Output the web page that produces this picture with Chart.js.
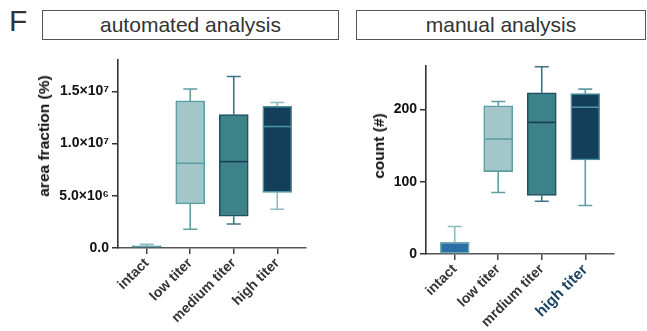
<!DOCTYPE html>
<html>
<head>
<meta charset="utf-8">
<script src="https://cdn.jsdelivr.net/npm/chart.js@4.4.1/dist/chart.umd.min.js"></script>
<style>
  body { margin: 0; background: #fff; font-family: "Liberation Sans", Arial, sans-serif; }
  #wrap { position: relative; width: 647px; height: 331px; overflow: hidden; background: #fff; }
  canvas { position: absolute; top: 0; }
  .panel-title { position: absolute; box-sizing: border-box; border: 1px solid #555; color: #333;
    font-size: 21px; text-align: center; line-height: 28px; height: 30px; top: 10px; }
  .letter { position: absolute; left: 9px; top: 4px; font-size: 30px; color: #333; }
  .ytitle { position: absolute; font-weight: bold; font-size: 15.5px; color: #111; white-space: nowrap;
    transform: translate(-50%, -50%) rotate(-90deg); }
</style>
</head>
<body>
<div id="wrap">
  <div class="letter">F</div>
  <div class="panel-title" style="left:42px; width:297px;">automated analysis</div>
  <div class="panel-title" style="left:356px; width:290px;">manual analysis</div>
  <canvas id="autoChart" width="330" height="331" style="left:0"></canvas>
  <canvas id="manualChart" width="317" height="331" style="left:330px"></canvas>
  <div class="ytitle" style="left:44px; top:136px;">area fraction (%)</div>
  <div class="ytitle" style="left:379px; top:146px;">count (#)</div>
</div>
<script>
// categories
const categories = ['intact', 'low titer', 'medium titer', 'high titer'];
const categoriesManual = ['intact', 'low titer', 'mrdium titer', 'high titer'];

// automated analysis: box plot statistics
const autoMin = [0, 1.79e6, 2.3e6, 3.71e6];
const autoQ1 = [0, 4.21e6, 3.04e6, 5.33e6];
const autoMedian = [0, 8.11e6, 8.27e6, 1.163e7];
const autoQ3 = [2.0e5, 1.408e7, 1.278e7, 1.357e7];
const autoMax = [3.5e5, 1.523e7, 1.642e7, 1.393e7];

// manual analysis: box plot statistics
const manMin = [0, 85, 73, 67];
const manQ1 = [0, 114, 81, 130];
const manMedian = [0, 159, 182, 203];
const manQ3 = [16, 205, 223, 222];
const manMax = [38, 211, 259, 228];

// y tick values
const autoTicks = [0, 5e6, 1e7, 1.5e7];
const manTicks = [0, 100, 200];

const FONT = "'Liberation Sans', Arial, sans-serif";

// whiskers behind the box, median on top
function boxPlotPlugin(minArr, q1Arr, medArr, q3Arr, maxArr, whiskerColors, medianColors) {
    return {
        id: 'boxWhiskers',
        beforeDatasetsDraw(chart) {
            const ctx = chart.ctx;
            const xs = chart.scales.x, ys = chart.scales.y;
            ctx.save();
            ctx.lineWidth = 1.6;
            for (let i = 0; i < minArr.length; i++) {
                const x = xs.getPixelForValue(i);
                const capHalf = 7;
                ctx.strokeStyle = whiskerColors[i];
                ctx.beginPath();
                // upper whisker
                ctx.moveTo(x, ys.getPixelForValue(q3Arr[i]));
                ctx.lineTo(x, ys.getPixelForValue(maxArr[i]));
                ctx.moveTo(x - capHalf, ys.getPixelForValue(maxArr[i]));
                ctx.lineTo(x + capHalf, ys.getPixelForValue(maxArr[i]));
                // lower whisker
                if (minArr[i] < q1Arr[i]) {
                    ctx.moveTo(x, ys.getPixelForValue(q1Arr[i]));
                    ctx.lineTo(x, ys.getPixelForValue(minArr[i]));
                    ctx.moveTo(x - capHalf, ys.getPixelForValue(minArr[i]));
                    ctx.lineTo(x + capHalf, ys.getPixelForValue(minArr[i]));
                }
                ctx.stroke();
            }
            ctx.restore();
        },
        afterDatasetsDraw(chart) {
            const ctx = chart.ctx;
            const ys = chart.scales.y;
            const meta = chart.getDatasetMeta(0);
            ctx.save();
            ctx.lineWidth = 1.6;
            meta.data.forEach((bar, i) => {
                if (medArr[i] <= q1Arr[i]) return;
                const y = ys.getPixelForValue(medArr[i]);
                ctx.strokeStyle = medianColors[i];
                ctx.beginPath();
                ctx.moveTo(bar.x - bar.width / 2 + 1, y);
                ctx.lineTo(bar.x + bar.width / 2 - 1, y);
                ctx.stroke();
            });
            ctx.restore();
        }
    };
}

function makeBoxChart(canvas, opts) {
    const boxes = opts.q1.map((q, i) => ({ x: i, y: [q, opts.q3[i]] }));
    return new Chart(canvas.getContext('2d'), {
        type: 'bar',
        data: {
            datasets: [{
                data: boxes,
                backgroundColor: opts.fill,
                borderColor: opts.border,
                borderWidth: 1.6,
                borderSkipped: false,
                barThickness: 29
            }]
        },
        options: {
            responsive: false,
            animation: false,
            events: [],
            layout: { padding: opts.padding },
            plugins: { legend: { display: false }, tooltip: { enabled: false } },
            scales: {
                x: {
                    type: 'linear',
                    offset: false,
                    min: -0.66,
                    max: 3.66,
                    afterBuildTicks: s => { s.ticks = opts.labels.map((_, i) => ({ value: i })); },
                    afterFit: s => { s.height = opts.xHeight; },
                    grid: { offset: false, drawOnChartArea: false, tickLength: 6, color: '#444', lineWidth: 1.5 },
                    border: { color: '#555', width: 1.6 },
                    ticks: {
                        autoSkip: false,
                        minRotation: 45,
                        maxRotation: 45,
                        padding: 1,
                        callback: v => opts.labels[v],
                        color: opts.labelColor,
                        font: opts.labelFont
                    }
                },
                y: {
                    min: 0,
                    max: opts.yMax,
                    afterBuildTicks: s => { s.ticks = opts.yTicks.map(v => ({ value: v })); },
                    afterFit: s => { s.width = opts.yWidth; },
                    grid: { drawOnChartArea: false, tickLength: 6, color: '#333', lineWidth: 1.5 },
                    border: { color: '#333', width: 1.6 },
                    ticks: {
                        padding: 3,
                        color: '#111',
                        font: { family: FONT, size: 14, weight: 'bold' },
                        callback: opts.yFormat
                    }
                }
            }
        },
        plugins: [boxPlotPlugin(opts.min, opts.q1, opts.median, opts.q3, opts.max, opts.whisker, opts.medianColor)]
    });
}

const sup = { '6': '\u2076', '7': '\u2077' };

makeBoxChart(document.getElementById('autoChart'), {
    labels: categories,
    min: autoMin, q1: autoQ1, median: autoMedian, q3: autoQ3, max: autoMax,
    fill: ['#3b8e96', '#a3c7c9', '#3d8189', '#133f5b'],
    border: ['#3b8e96', '#5d9ea5', '#1d5064', '#4b949b'],
    whisker: ['#8dbcc0', '#5d9ea5', '#3f7184', '#8dbcc0'],
    medianColor: ['#3b8e96', '#5d9ea5', '#163f58', '#4b949b'],
    padding: { left: 0, right: 24, top: 60, bottom: 0 },
    xHeight: 83,
    yWidth: 118,
    yMax: 1.8e7,
    yTicks: autoTicks,
    yFormat: v => {
        if (v === 0) return '0.0';
        const e = Math.floor(Math.log10(v));
        return (v / Math.pow(10, e)).toFixed(1) + '\u00d710' + sup[e];
    },
    labelColor: '#333',
    labelFont: { family: FONT, size: 14, weight: 'bold' }
});

makeBoxChart(document.getElementById('manualChart'), {
    labels: categoriesManual,
    min: manMin, q1: manQ1, median: manMedian, q3: manQ3, max: manMax,
    fill: ['#2c6ea6', '#a3c7c9', '#3d8189', '#133f5b'],
    border: ['#71aab2', '#5d9ea5', '#1d5064', '#4b949b'],
    whisker: ['#8dbcc0', '#5d9ea5', '#3f7184', '#5d9ea5'],
    medianColor: ['#71aab2', '#5d9ea5', '#163f58', '#4b949b'],
    padding: { left: 0, right: 33, top: 66, bottom: 0 },
    xHeight: 77,
    yWidth: 96,
    yMax: 260,
    yTicks: manTicks,
    yFormat: v => String(v),
    labelColor: ctx => ctx.index === 3 ? '#1d4563' : '#333',
    labelFont: ctx => ({ family: FONT, size: ctx.index === 3 ? 15.5 : 14, weight: 'bold' })
});
</script>
</body>
</html>
